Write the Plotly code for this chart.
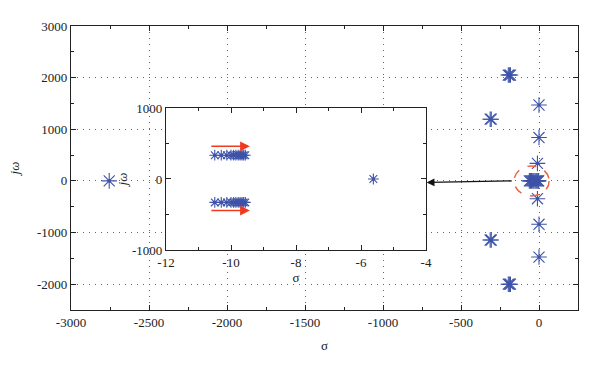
import plotly.graph_objects as go

# Main plot poles (sigma, j-omega)
main_sigma = [-2755, -197, -190, -183, -313, -306, -313, -306, -197, -190, -183,
              0, 0, -10, -10, 0, 0,
              -62, -55, -48, -40, -33, -25, -18, -12, -5.6, -2]
main_omega = [0, 2050, 2050, 2050, 1195, 1195, -1145, -1145, -2000, -2000, -2000,
              1470, 840, 340, -345, -840, -1475,
              0, 0, 0, 0, 0, 0, 0, 0, 0, 0]

# Inset (zoomed) poles
inset_sigma_cluster = [-10.5, -10.3, -10.13, -10.0, -9.92, -9.85, -9.78, -9.72, -9.66, -9.61, -9.56]
inset_omega_upper = 335
inset_omega_lower = -330
inset_sigma_single = [-5.62]
inset_omega_single = [0]

# Tick labels
main_xticks = [-3000, -2500, -2000, -1500, -1000, -500, 0]
main_yticks = [-2000, -1000, 0, 1000, 2000, 3000]
inset_xticks = [-12, -10, -8, -6, -4]
inset_yticks = [-1000, 0, 1000]

blue = "#3d52a8"
font_fam = "Liberation Serif"

fig = go.Figure()

fig.add_trace(go.Scatter(
    x=main_sigma, y=main_omega, mode="markers",
    marker=dict(symbol="asterisk-open", size=13, color=blue, line=dict(color=blue, width=1.1)),
    showlegend=False, xaxis="x", yaxis="y"))
fig.add_trace(go.Scatter(
    x=main_sigma, y=main_omega, mode="markers",
    marker=dict(symbol="circle", size=3, color=blue),
    showlegend=False, xaxis="x", yaxis="y"))

ins_x = inset_sigma_cluster + inset_sigma_cluster + inset_sigma_single
ins_y = [inset_omega_upper] * len(inset_sigma_cluster) + [inset_omega_lower] * len(inset_sigma_cluster) + inset_omega_single
fig.add_trace(go.Scatter(
    x=ins_x, y=ins_y, mode="markers",
    marker=dict(symbol="asterisk-open", size=9, color=blue, line=dict(color=blue, width=1.1)),
    showlegend=False, xaxis="x2", yaxis="y2"))
fig.add_trace(go.Scatter(
    x=ins_x, y=ins_y, mode="markers",
    marker=dict(symbol="circle", size=3, color=blue),
    showlegend=False, xaxis="x2", yaxis="y2"))

axis_common = dict(
    showline=True, linecolor="#222", linewidth=1.3, mirror="allticks",
    ticks="inside", ticklen=5, tickcolor="#222", zeroline=False, automargin=False,
    tickfont=dict(family=font_fam, size=13, color="#222"), tickmode="array",
)

def lab(v):
    return [str(t) for t in v]

fig.update_layout(
    width=600, height=365,
    margin=dict(l=71, r=22, t=26, b=55),
    paper_bgcolor="white", plot_bgcolor="white",
    font=dict(family=font_fam, size=13, color="#222"),
    xaxis=dict(range=[-3000, 250], tickvals=main_xticks, ticktext=lab(main_xticks),
               showgrid=True, gridcolor="#666", griddash="1px,5px", gridwidth=1,
               minor=dict(dtick=250, tick0=0, ticks="inside", ticklen=3, tickcolor="#222", showgrid=False),
               title=dict(text="σ", font=dict(family=font_fam, size=13), standoff=12),
               **axis_common),
    yaxis=dict(range=[-2500, 3000], tickvals=main_yticks, ticktext=lab(main_yticks),
               showgrid=True, gridcolor="#666", griddash="1px,5px", gridwidth=1,
               minor=dict(dtick=500, tick0=0, ticks="inside", ticklen=3, tickcolor="#222", showgrid=False),
               title=dict(text="<i>jω</i>", font=dict(family=font_fam, size=13), standoff=14),
               **axis_common),
    xaxis2=dict(domain=[0.1874, 0.7002], anchor="y2", range=[-12, -4],
                tickvals=inset_xticks, ticktext=lab(inset_xticks),
                showgrid=False,
                minor=dict(dtick=1, tick0=0, ticks="inside", ticklen=3, tickcolor="#222"),
                title=dict(text="σ", font=dict(family=font_fam, size=13), standoff=4),
                **axis_common),
    yaxis2=dict(domain=[0.2113, 0.7113], anchor="x2", range=[-1000, 1000],
                tickvals=inset_yticks, ticktext=lab(inset_yticks),
                showgrid=False,
                minor=dict(dtick=500, tick0=0, ticks="inside", ticklen=3, tickcolor="#222"),
                title=dict(text="<i>jω</i>", font=dict(family=font_fam, size=13), standoff=1),
                **axis_common),
)

# Red dashed ellipse around the cluster
fig.add_shape(type="circle", xref="x", yref="y", x0=-160, x1=65, y0=-290, y1=290,
              line=dict(color="#f0603a", width=1.5, dash="dash"))

# Black arrow from cluster to inset
fig.add_annotation(x=-720, y=-30, ax=-165, ay=0, xref="x", yref="y", axref="x", ayref="y",
                   text="", showarrow=True, arrowhead=2, arrowsize=1.2, arrowwidth=1.3,
                   arrowcolor="#111")

# Red arrows in the inset
for yv in [460, -445]:
    fig.add_annotation(x=-9.42, y=yv, ax=-10.65, ay=yv, xref="x2", yref="y2", axref="x2", ayref="y2",
                       text="", showarrow=True, arrowhead=2, arrowsize=1.3, arrowwidth=1.5,
                       arrowcolor="#f03a20")

fig.write_html("out.html", config={"displayModeBar": False},
               post_script="document.body.style.margin='0';document.body.style.overflow='hidden';")
